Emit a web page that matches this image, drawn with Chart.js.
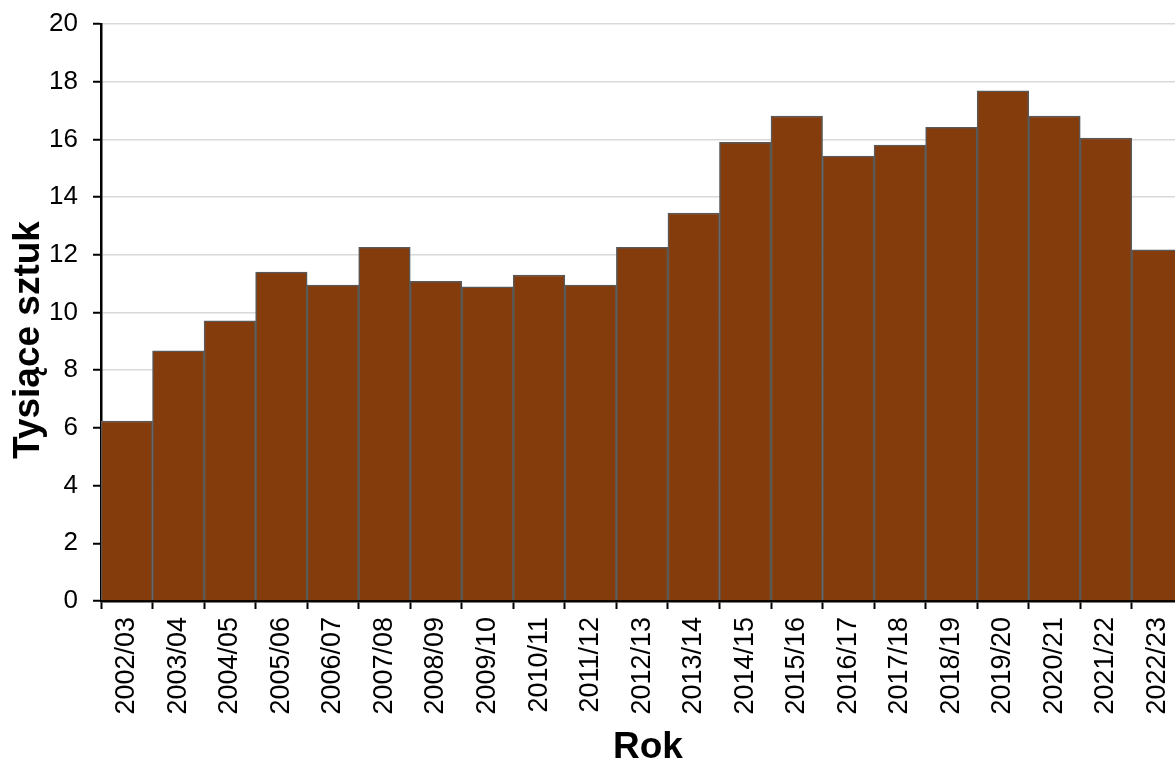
<!DOCTYPE html>
<html>
<head>
<meta charset="utf-8">
<style>
html, body { margin:0; padding:0; overflow:hidden; background:#fff; width:1175px; height:762px; }
canvas { display:block; }
</style>
<script src="https://cdn.jsdelivr.net/npm/chart.js@4/dist/chart.umd.min.js"></script>
</head>
<body>
<canvas id="c" width="1198" height="762"></canvas>
<script>
const categories = ["2002/03","2003/04","2004/05","2005/06","2006/07","2007/08","2008/09","2009/10","2010/11","2011/12","2012/13","2013/14","2014/15","2015/16","2016/17","2017/18","2018/19","2019/20","2020/21","2021/22","2022/23"];
const values = [6.24, 8.67, 9.71, 11.40, 10.95, 12.26, 11.08, 10.89, 11.30, 10.95, 12.26, 13.45, 15.90, 16.81, 15.42, 15.80, 16.42, 17.68, 16.81, 16.05, 12.17];
const yTitle = "Tysiące sztuk";
const xTitle = "Rok";

const FONT = "'Liberation Sans', Arial, sans-serif";

const titlesPlugin = {
  id: 'axisTitles',
  afterDraw(chart) {
    const ctx = chart.ctx;
    const a = chart.chartArea;
    ctx.save();
    ctx.fillStyle = '#000';
    ctx.font = "bold 37px " + FONT;
    ctx.textAlign = 'center';
    ctx.textBaseline = 'alphabetic';
    ctx.translate(39, a.top + 316);
    ctx.rotate(-Math.PI / 2);
    ctx.fillText(yTitle, 0, 0);
    ctx.restore();
    ctx.save();
    ctx.fillStyle = '#000';
    ctx.font = "bold 37px " + FONT;
    ctx.textAlign = 'center';
    ctx.textBaseline = 'alphabetic';
    ctx.fillText(xTitle, 648, 758);
    ctx.restore();
  }
};

new Chart(document.getElementById('c'), {
  type: 'bar',
  data: {
    labels: categories,
    datasets: [{
      data: values,
      backgroundColor: '#843C0C',
      borderColor: '#595959',
      borderWidth: 1.5,
      barPercentage: 1,
      categoryPercentage: 1
    }]
  },
  options: {
    responsive: false,
    animation: false,
    layout: { padding: { top: 24, right: 2, bottom: 0, left: 0 } },
    plugins: { legend: { display: false }, tooltip: { enabled: false } },
    scales: {
      x: {
        offset: true,
        afterFit(scale) { scale.height = 161; },
        border: { display: true, color: '#000', width: 2.5 },
        grid: { display: true, offset: true, drawOnChartArea: false, drawTicks: true, tickLength: 8, tickColor: '#000', tickWidth: 2 },
        ticks: { autoSkip: false, maxRotation: 90, minRotation: 90, padding: 8, color: '#000', font: { family: FONT, size: 27 } }
      },
      y: {
        min: 0, max: 20,
        afterFit(scale) { scale.width = 101; scale.paddingTop = 0; scale.paddingBottom = 0; },
        border: { display: true, color: '#000', width: 2.5 },
        grid: { color: '#d9d9d9', lineWidth: 1.5, drawTicks: true, tickLength: 8, tickColor: '#000', tickWidth: 2 },
        ticks: { stepSize: 2, padding: 15, color: '#000', font: { family: FONT, size: 26 } }
      }
    }
  },
  plugins: [titlesPlugin]
});
</script>
</body>
</html>
